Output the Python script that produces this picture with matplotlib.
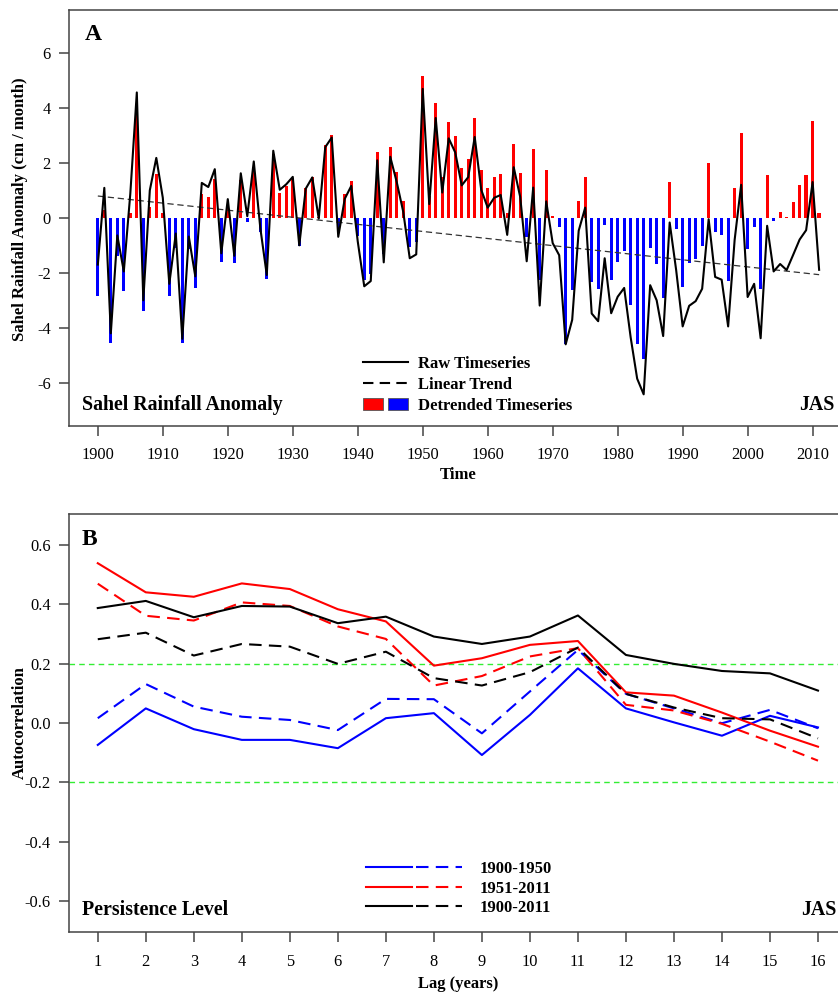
import numpy as np
import matplotlib
matplotlib.use('Agg')
import matplotlib.pyplot as plt
from matplotlib.lines import Line2D
from matplotlib.patches import Patch
from matplotlib.legend_handler import HandlerTuple

plt.rcParams['font.family'] = 'Liberation Serif'
plt.rcParams['axes.unicode_minus'] = False

# Sahel JAS rainfall anomaly (cm/month), 1900-2011
years = np.arange(1900, 2012)
raw = [-1.70, 1.09, -4.20, -0.64, -1.95, 0.88, 4.56, -3.00, 1.00, 2.18,
       0.73, -2.40, -0.57, -4.40, -0.68, -2.13, 1.27, 1.12, 1.77, -1.29,
       0.68, -1.38, 1.62, 0.06, 2.05, -0.36, -2.08, 2.44, 1.02, 1.22,
       1.49, -1.00, 1.06, 1.47, -0.03, 2.57, 2.92, -0.69, 0.69, 1.16,
       -0.86, -2.49, -2.30, 2.09, -1.62, 2.22, 1.30, 0.22, -1.47, -1.33,
       4.69, 0.50, 3.63, 0.92, 2.89, 2.38, 1.18, 1.48, 2.94, 1.02,
       0.37, 0.73, 0.83, -0.62, 1.84, 0.76, -1.58, 1.10, -3.19, 0.60,
       -0.92, -1.36, -4.60, -3.71, -0.47, 0.37, -3.48, -3.76, -1.47, -3.47,
       -2.87, -2.55, -4.35, -5.85, -6.42, -2.45, -3.00, -4.30, -0.17, -1.90,
       -3.95, -3.20, -3.03, -2.58, -0.05, -2.15, -2.25, -3.95, -0.80, 1.20,
       -2.88, -2.40, -4.38, -0.29, -1.95, -1.68, -1.90, -1.35, -0.79, -0.45,
       1.30, -1.89]
detrended = [-2.84, 0.30, -4.57, -1.38, -2.67, 0.19, 3.89, -3.38, 0.39, 1.59,
             0.17, -2.85, -1.08, -4.55, -1.14, -2.56, 0.86, 0.74, 1.41, -1.62,
             0.38, -1.66, 1.37, -0.17, 1.85, -0.53, -2.23, 2.32, 0.92, 1.15,
             1.45, -1.02, 1.07, 1.50, 0.03, 2.66, 3.03, -0.55, 0.85, 1.35,
             -0.65, -2.25, -2.03, 2.38, -1.30, 2.56, 1.67, 0.62, -1.05, -0.88,
             5.16, 0.78, 4.16, 1.47, 3.47, 2.98, 1.81, 2.13, 3.62, 1.73,
             1.10, 1.49, 1.61, 0.19, 2.68, 1.62, -0.69, 2.50, -2.25, 1.75,
             0.07, -0.34, -4.59, -2.64, 0.62, 1.49, -2.33, -2.59, -0.27, -2.25,
             -1.62, -1.20, -3.16, -4.59, -5.14, -1.10, -1.67, -2.91, 1.30, -0.39,
             -2.51, -1.66, -1.48, -1.02, 1.98, -0.53, -0.62, -2.29, 1.10, 3.10,
             -1.14, -0.35, -2.59, 1.56, -0.11, 0.22, 0.02, 0.56, 1.20, 1.56,
             3.53, 0.16]

# autocorrelation by lag; solid = raw series, dashed = detrended series
lags = np.arange(1, 17)
acf_early = [-0.074, 0.049, -0.021, -0.057, -0.057, -0.085, 0.016, 0.033,
             -0.108, 0.027, 0.184, 0.049, 0.002, -0.043, 0.024, -0.015]
acf_early_dt = [0.016, 0.131, 0.055, 0.021, 0.010, -0.024, 0.081, 0.080,
                -0.035, 0.106, 0.246, 0.098, 0.049, -0.001, 0.044, -0.018]
acf_late = [0.538, 0.440, 0.425, 0.470, 0.451, 0.383, 0.342, 0.193,
            0.218, 0.263, 0.276, 0.103, 0.092, 0.035, -0.026, -0.080]
acf_late_dt = [0.469, 0.361, 0.345, 0.406, 0.394, 0.325, 0.283, 0.126,
               0.158, 0.224, 0.252, 0.061, 0.042, -0.003, -0.063, -0.127]
acf_all = [0.387, 0.411, 0.356, 0.394, 0.392, 0.336, 0.358, 0.291,
           0.266, 0.291, 0.362, 0.229, 0.199, 0.175, 0.167, 0.109]
acf_all_dt = [0.282, 0.304, 0.227, 0.266, 0.257, 0.199, 0.240, 0.151,
              0.126, 0.171, 0.254, 0.098, 0.052, 0.016, 0.012, -0.052]
signif = 0.2

raw = np.array(raw)
detrended = np.array(detrended)

spine_col = '#444444'
dash = (0, (6, 3.5))

fig = plt.figure(figsize=(8.38, 9.96), dpi=100)

def style_axes(ax):
    for s in ax.spines.values():
        s.set_color(spine_col)
        s.set_linewidth(1.1)
    ax.tick_params(direction='out', length=7, width=1.1, color=spine_col,
                   labelsize=11.8, labelcolor='black')
    ax.tick_params(axis='y', pad=6)
    ax.tick_params(axis='x', pad=8)

# ---- panel A: rainfall anomaly ----
axA = fig.add_axes([0.0823, 0.5726, 0.9296, 0.4174])
bar_cols = np.where(detrended >= 0, '#ff0000', '#0000ff')
axA.bar(years, detrended, width=0.5, color=bar_cols, zorder=2)
coef = np.polyfit(years, raw, 1)
axA.plot(years, np.polyval(coef, years), color='#333333', lw=0.9,
         ls=(0, (5, 3)), zorder=3)
axA.plot(years, raw, color='black', lw=1.5, zorder=4)

axA.set_xlim(1895.56, 2015.44)
axA.set_ylim(-7.56, 7.56)
axA.set_xticks(np.arange(1900, 2011, 10))
axA.set_yticks(np.arange(-6, 7, 2))
style_axes(axA)
axA.set_xlabel('Time', fontsize=12, fontweight='bold')
axA.xaxis.set_label_coords(0.5, -0.100)
axA.set_ylabel('Sahel Rainfall Anomaly (cm / month)', fontsize=12,
               fontweight='bold')
axA.yaxis.set_label_coords(-0.053, 0.52)

axA.text(0.0205, 0.941, 'A', transform=axA.transAxes, fontsize=17,
         fontweight='bold', va='center', ha='left')
axA.text(0.0163, 0.050, 'Sahel Rainfall Anomaly', transform=axA.transAxes,
         fontsize=14.3, fontweight='bold', va='center', ha='left')
axA.text(0.983, 0.050, 'JAS', transform=axA.transAxes, fontsize=14.3,
         fontweight='bold', va='center', ha='right')

hA = [Line2D([], [], color='black', lw=1.5),
      Line2D([], [], color='black', lw=1.5, ls=(0, (5, 3))),
      (Patch(facecolor='#ff0000', edgecolor='#555555', lw=0.6),
       Patch(facecolor='#0000ff', edgecolor='#555555', lw=0.6))]
axA.legend(hA, ['Raw Timeseries', 'Linear Trend', 'Detrended Timeseries'],
           handler_map={tuple: HandlerTuple(ndivide=None, pad=0.3)},
           loc='upper left', bbox_to_anchor=(0.377, 0.168), frameon=False,
           borderpad=0, borderaxespad=0, handlelength=2.7,
           handletextpad=0.6, labelspacing=0.3,
           prop={'size': 12, 'weight': 'bold'})

# ---- panel B: persistence ----
axB = fig.add_axes([0.0823, 0.0643, 0.9282, 0.4197])
for lim in (signif, -signif):
    axB.axhline(lim, color='#33ee33', lw=1.0, ls=(0, (4, 3)), zorder=1)

series = [(acf_early, acf_early_dt, '#0000ff'),
          (acf_late, acf_late_dt, '#ff0000'),
          (acf_all, acf_all_dt, 'black')]
for solid, dashed, c in series:
    axB.plot(lags, solid, color=c, lw=1.5, zorder=3)
    axB.plot(lags, dashed, color=c, lw=1.5, ls=dash, zorder=3)

axB.set_xlim(0.4, 16.6)
axB.set_ylim(-0.704, 0.704)
axB.set_xticks(lags)
axB.set_yticks(np.round(np.arange(-0.6, 0.61, 0.2), 1))
axB.set_yticklabels(['%.1f' % v for v in np.arange(-0.6, 0.61, 0.2)])
style_axes(axB)
axB.tick_params(axis='x', pad=9)
axB.set_xlabel('Lag (years)', fontsize=12, fontweight='bold')
axB.xaxis.set_label_coords(0.5, -0.106)
axB.set_ylabel('Autocorrelation', fontsize=12, fontweight='bold')
axB.yaxis.set_label_coords(-0.053, 0.5)

axB.text(0.0167, 0.938, 'B', transform=axB.transAxes, fontsize=17,
         fontweight='bold', va='center', ha='left')
axB.text(0.0167, 0.053, 'Persistence Level', transform=axB.transAxes,
         fontsize=14.3, fontweight='bold', va='center', ha='left')
axB.text(0.987, 0.053, 'JAS', transform=axB.transAxes, fontsize=14.3,
         fontweight='bold', va='center', ha='right')

hB = [(Line2D([], [], color=c, lw=1.5), Line2D([], [], color=c, lw=1.5, ls=dash))
      for _, _, c in series]
axB.legend(hB, ['1900-1950', '1951-2011', '1900-2011'],
           handler_map={tuple: HandlerTuple(ndivide=None, pad=0.2)},
           loc='upper left', bbox_to_anchor=(0.382, 0.170), frameon=False,
           borderpad=0, borderaxespad=0, handlelength=5.75,
           handletextpad=1.08, labelspacing=0.22,
           prop={'size': 12, 'weight': 'bold'})

fig.savefig('out.png', dpi=100)
